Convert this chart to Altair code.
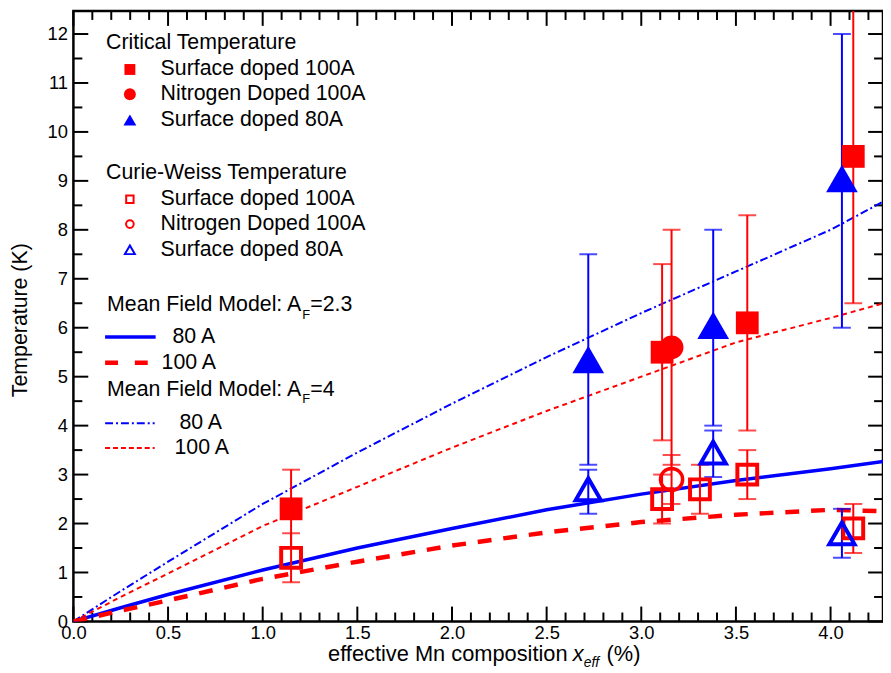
import altair as alt
import pandas as pd

# ---------------- data ----------------
# Critical temperature (filled symbols)
sd100_tc_x = [1.15, 3.11, 3.56, 4.12]
sd100_tc_y = [2.3, 5.5, 6.1, 9.5]
sd100_tc_lo = [1.5, 3.7, 3.9, 6.5]
sd100_tc_hi = [3.1, 7.3, 8.3, 12.5]

nd100_tc_x = [3.16]
nd100_tc_y = [5.6]
nd100_tc_lo = [3.2]
nd100_tc_hi = [8.0]

sd80_tc_x = [2.72, 3.38, 4.06]
sd80_tc_y = [5.35, 6.05, 9.05]
sd80_tc_lo = [3.2, 4.0, 6.0]
sd80_tc_hi = [7.5, 8.0, 12.0]

# Curie-Weiss temperature (open symbols)
sd100_cw_x = [1.15, 3.11, 3.31, 3.56, 4.12]
sd100_cw_y = [1.3, 2.5, 2.7, 3.0, 1.9]
sd100_cw_lo = [0.8, 2.0, 2.2, 2.5, 1.4]
sd100_cw_hi = [1.8, 3.0, 3.2, 3.5, 2.4]

nd100_cw_x = [3.16]
nd100_cw_y = [2.9]
nd100_cw_lo = [2.4]
nd100_cw_hi = [3.4]

sd80_cw_x = [2.72, 3.38, 4.06]
sd80_cw_y = [2.7, 3.45, 1.8]
sd80_cw_lo = [2.2, 2.95, 1.3]
sd80_cw_hi = [3.1, 3.9, 2.3]

# Mean-field model curves
curve_x = [0.0, 0.25, 0.5, 1.0, 1.5, 2.0, 2.5, 3.0, 3.5, 4.0, 4.28]
mf23_80 = [0.0, 0.28, 0.55, 1.05, 1.5, 1.9, 2.28, 2.6, 2.88, 3.12, 3.27]
mf23_100 = [0.0, 0.22, 0.43, 0.87, 1.22, 1.55, 1.82, 2.03, 2.18, 2.28, 2.25]
mf4_80 = [0.0, 0.62, 1.22, 2.4, 3.45, 4.45, 5.4, 6.3, 7.15, 8.0, 8.58]
mf4_100 = [0.0, 0.5, 0.98, 1.95, 2.75, 3.55, 4.3, 5.0, 5.7, 6.2, 6.5]

# axis ticks
x_major = [0.0, 0.5, 1.0, 1.5, 2.0, 2.5, 3.0, 3.5, 4.0]
x_minor = [0.1, 0.2, 0.3, 0.4, 0.6, 0.7, 0.8, 0.9, 1.1, 1.2, 1.3, 1.4,
           1.6, 1.7, 1.8, 1.9, 2.1, 2.2, 2.3, 2.4, 2.6, 2.7, 2.8, 2.9,
           3.1, 3.2, 3.3, 3.4, 3.6, 3.7, 3.8, 3.9, 4.1, 4.2]
y_major = [0, 1, 2, 3, 4, 5, 6, 7, 8, 9, 10, 11, 12]
y_minor = [0.5, 1.5, 2.5, 3.5, 4.5, 5.5, 6.5, 7.5, 8.5, 9.5, 10.5, 11.5]

# ---------------- layout / style ----------------
W, H = 817, 616
XMAX, YMAX = 4.277, 12.47
RED, BLUE = "#FF0000", "#0000FF"
FONT = "Liberation Sans"
FS = 21.5
KX = XMAX / W   # data units per pixel
KY = YMAX / H

xs = alt.Scale(domain=[0, XMAX], nice=False, zero=False)
ys = alt.Scale(domain=[0, YMAX], nice=False, zero=False)

x_axis = alt.Axis(values=x_major, format=".1f", title=None, ticks=False, tickSize=0,
                  domain=False, grid=False, labelFont=FONT, labelFontSize=18.5,
                  labelColor="black", labelPadding=2, labelFlush=False)
y_axis = alt.Axis(values=y_major, format="d", title=None, ticks=False, tickSize=0,
                  domain=False, grid=False, labelFont=FONT, labelFontSize=18.5,
                  labelColor="black", labelPadding=6, labelFlush=False)


def X(f):
    return alt.X(f, type="quantitative", scale=xs, axis=x_axis)


def Y(f):
    return alt.Y(f, type="quantitative", scale=ys, axis=y_axis)


layers = []


# inward frame ticks, drawn through the shared scales
def xticks(vals, L):
    n = len(vals)
    df = pd.DataFrame({"v": vals, "b0": [0.0] * n, "b1": [L * KY] * n,
                       "t0": [YMAX] * n, "t1": [YMAX - L * KY] * n})
    b = alt.Chart(df)
    return [
        b.mark_rule(color="black", strokeWidth=2).encode(x=X("v"), y=Y("b0"), y2="b1"),
        b.mark_rule(color="black", strokeWidth=2).encode(x=X("v"), y=Y("t0"), y2="t1"),
    ]


def yticks(vals, L):
    n = len(vals)
    df = pd.DataFrame({"v": [float(v) for v in vals], "l0": [0.0] * n, "l1": [L * KX] * n,
                       "r0": [XMAX] * n, "r1": [XMAX - L * KX] * n})
    b = alt.Chart(df)
    return [
        b.mark_rule(color="black", strokeWidth=2).encode(y=Y("v"), x=X("l0"), x2="l1"),
        b.mark_rule(color="black", strokeWidth=2).encode(y=Y("v"), x=X("r0"), x2="r1"),
    ]


layers += xticks(x_major, 15) + xticks(x_minor, 9)
layers += yticks(y_major, 15) + yticks(y_minor, 9)


# model curves
def curve(yv, color, width, dash=None):
    df = pd.DataFrame({"x": curve_x, "y": yv})
    kw = dict(color=color, strokeWidth=width, clip=True)
    if dash:
        kw["strokeDash"] = dash
    return alt.Chart(df).mark_line(**kw).encode(x=X("x"), y=Y("y"))


layers.append(curve(mf4_80, BLUE, 2, [8, 3, 2, 3]))
layers.append(curve(mf4_100, RED, 2, [5, 4]))
layers.append(curve(mf23_80, BLUE, 3.5))
layers.append(curve(mf23_100, RED, 4.5, [14, 12]))


# error bars
def errbars(xv, lo, hi, color):
    df = pd.DataFrame({"x": xv, "lo": lo, "hi": hi})
    b = alt.Chart(df)
    return [
        b.mark_rule(color=color, strokeWidth=2, clip=True).encode(
            x=X("x"), y=Y("lo"), y2="hi"),
        b.mark_tick(orient="horizontal", size=18, thickness=2, color=color, clip=True).encode(
            x=X("x"), y=Y("lo")),
        b.mark_tick(orient="horizontal", size=18, thickness=2, color=color, clip=True).encode(
            x=X("x"), y=Y("hi")),
    ]


layers += errbars(sd100_cw_x, sd100_cw_lo, sd100_cw_hi, RED)
layers += errbars(nd100_cw_x, nd100_cw_lo, nd100_cw_hi, RED)
layers += errbars(sd80_cw_x, sd80_cw_lo, sd80_cw_hi, BLUE)
layers += errbars(sd100_tc_x, sd100_tc_lo, sd100_tc_hi, RED)
layers += errbars(nd100_tc_x, nd100_tc_lo, nd100_tc_hi, RED)
layers += errbars(sd80_tc_x, sd80_tc_lo, sd80_tc_hi, BLUE)


# markers
def pts(xv, yv, shape, color, filled, size, sw=0):
    df = pd.DataFrame({"x": xv, "y": yv})
    if filled:
        m = alt.Chart(df).mark_point(shape=shape, filled=True, color=color, size=size,
                                     opacity=1, strokeWidth=0)
    else:
        m = alt.Chart(df).mark_point(shape=shape, filled=False, color=color, size=size,
                                     opacity=1, strokeWidth=sw)
    return m.encode(x=X("x"), y=Y("y"))


layers.append(pts(sd100_cw_x, sd100_cw_y, "square", RED, False, 400, 4))
layers.append(pts(nd100_cw_x, nd100_cw_y, "circle", RED, False, 500, 3.5))
layers.append(pts(sd80_cw_x, sd80_cw_y, "triangle-up", BLUE, False, 650, 4))
layers.append(pts(sd100_tc_x, sd100_tc_y, "square", RED, True, 529))
layers.append(pts(nd100_tc_x, nd100_tc_y, "circle", RED, True, 576))
layers.append(pts(sd80_tc_x, sd80_tc_y, "triangle-up", BLUE, True, 1024))

# ---------------- legend & titles (manual, pixel placed) ----------------
one = pd.DataFrame({"a": [0]})


def txt(s, x, y, size=FS, style="normal", angle=0, align="left"):
    return alt.Chart(one).mark_text(text=s, font=FONT, fontSize=size, fontStyle=style,
                                    color="black", align=align, baseline="middle",
                                    angle=angle).encode(x=alt.value(x), y=alt.value(y))


def sym(shape, color, filled, size, x, y, sw=2):
    if filled:
        m = alt.Chart(one).mark_point(shape=shape, filled=True, color=color, size=size,
                                      opacity=1, strokeWidth=0)
    else:
        m = alt.Chart(one).mark_point(shape=shape, filled=False, color=color, size=size,
                                      opacity=1, strokeWidth=sw)
    return m.encode(x=alt.value(x), y=alt.value(y))


def seg(x1, x2, y, color, width, dash=None):
    kw = dict(color=color, strokeWidth=width)
    if dash:
        kw["strokeDash"] = dash
    return alt.Chart(one).mark_rule(**kw).encode(x=alt.value(x1), x2=alt.value(x2),
                                                   y=alt.value(y))


SX, TX = 57, 88
layers += [
    txt("Critical Temperature", 33, 32),
    sym("square", RED, True, 121, SX, 59), txt("Surface doped 100A", TX, 59),
    sym("circle", RED, True, 144, SX, 84), txt("Nitrogen Doped 100A", TX, 84),
    sym("triangle-up", BLUE, True, 169, SX, 110), txt("Surface doped 80A", TX, 110),
    txt("Curie-Weiss Temperature", 33, 164),
    sym("square", RED, False, 56, SX, 190), txt("Surface doped 100A", TX, 190),
    sym("circle", RED, False, 60, SX, 215), txt("Nitrogen Doped 100A", TX, 215),
    sym("triangle-up", BLUE, False, 100, SX, 241), txt("Surface doped 80A", TX, 241),
    txt("Mean Field Model: A", 34, 297), txt("F", 231, 307, size=13), txt("=2.3", 239, 297),
    seg(32, 83, 329, BLUE, 3.5), txt("80 A", 100, 329),
    seg(32, 76, 355, RED, 4.5, [13, 17]), txt("100 A", 89, 355),
    txt("Mean Field Model: A", 34, 382), txt("F", 231, 392, size=13), txt("=4", 239, 382),
    seg(32, 82, 416, BLUE, 2, [8, 3, 2, 3]), txt("80 A", 107, 416),
    seg(32, 82, 441, RED, 2, [5, 3]), txt("100 A", 102, 441),
    # axis titles
    txt("effective Mn composition", 257, 649, size=22),
    txt("x", 504, 649, size=22, style="italic"),
    txt("eff", 515, 658, size=14, style="italic"),
    txt("(%)", 538, 649, size=22),
    txt("Temperature (K)", -53, 312, size=21.5, angle=270, align="center"),
]

chart = alt.layer(*layers).properties(
    width=W, height=H,
    autosize=alt.AutoSizeParams(type="none"),
    padding={"left": 66, "top": 0, "right": 0, "bottom": 50},
    background="white",
).configure_view(stroke="black", strokeWidth=2.5)

chart.save("out.html", embed_options={"renderer": "svg", "actions": False})
